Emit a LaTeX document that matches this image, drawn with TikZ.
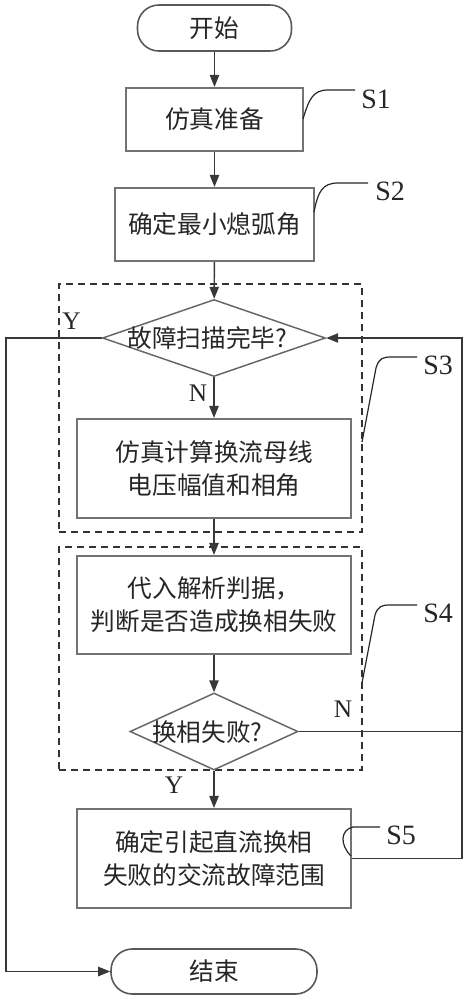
\documentclass[tikz,border=0pt]{standalone}
\usepackage{fontspec}
\setmainfont{Liberation Serif}
\newfontfamily\cjk{Noto Sans CJK SC}
\usetikzlibrary{shapes.geometric,arrows.meta}
\begin{document}
\begin{tikzpicture}[x=0.75pt,y=-0.75pt,
  line/.style={draw=black!78, line width=1.1pt},
  arr/.style={line, -{Triangle[length=9pt,width=7pt]}},
  callout/.style={draw=black!85, line width=0.9pt},
  cjktext/.style={font=\cjk\fontsize{18.5}{24.75}\selectfont, text=black!85},
  proc/.style={cjktext, draw=black!55, line width=1.6pt, fill=white, inner sep=0pt, align=center},
  term/.style={cjktext, draw=black!65, line width=1.2pt, rounded corners=16pt, inner sep=0pt},
  dia/.style={diamond, draw=black!60, line width=1.1pt, inner sep=0pt},
  dbox/.style={draw=black!80, line width=1pt, dash pattern=on 5.5pt off 3.5pt, inner sep=0pt},
  lab/.style={font=\fontsize{19}{22}\selectfont, text=black!85, inner sep=0pt},
  slab/.style={font=\fontsize{21}{24}\selectfont, text=black!85, inner sep=0pt, anchor=west}
]
\useasboundingbox (0,0) rectangle (467,1000);

% dashed groups
\node[dbox, minimum width=227.25pt, minimum height=186pt] (g1) at (210.5,408) {};
\node[dbox, minimum width=227.25pt, minimum height=167.25pt] (g2) at (210.5,658.5) {};

% nodes
\node[term, minimum width=115.5pt, minimum height=34.5pt] (start) at (214.5,28) {开始};
\node[proc, minimum width=132.75pt, minimum height=47.25pt] (s1) at (214.5,119.5) {仿真准备};
\node[proc, minimum width=149.25pt, minimum height=54.75pt] (s2) at (214.5,224.5) {确定最小熄弧角};
\node[dia, minimum width=167.25pt, minimum height=57.75pt] (d1) at (214,338) {};
\node[cjktext, inner sep=0pt] (d1t) at (207.5,338) {故障扫描完毕?};
\node[proc, minimum width=205.5pt, minimum height=74.25pt] (s3) at (214,468.5) {仿真计算换流母线\\电压幅值和相角};
\node[proc, minimum width=205.5pt, minimum height=73.5pt] (s4) at (214,605) {代入解析判据，\\判断是否造成换相失败};
\node[dia, minimum width=126pt, minimum height=57.75pt] (d2) at (214,731.5) {};
\node[cjktext, inner sep=0pt] (d2t) at (207.5,732) {换相失败?};
\node[proc, minimum width=205.5pt, minimum height=74.25pt] (s5) at (214,858.5) {确定引起直流换相\\失败的交流故障范围};
\node[term, minimum width=154.5pt, minimum height=33.75pt] (end) at (214,971.5) {结束};

% helper coordinates
\coordinate (fb) at (462,338);
\coordinate (lb) at (6,338);

% main flow
\draw[arr] (start) -- (s1);
\draw[arr] (s1) -- (s2);
\draw[arr] (s2) -- (d1);
\draw[arr] (d1) -- (s3);
\draw[arr] (s3) -- (s4);
\draw[arr] (s4) -- (d2);
\draw[arr] (d2) -- (s5);
\draw[arr] (s5.east) -| (fb) -- (d1.east);
\draw[line] (d2.east) -- (d2.east -| fb);
\draw[arr] (d1.west) -- (lb) |- (end.west);

% Y / N labels
\node[lab] (y1) at (71.5,321.5) {Y};
\node[lab] (n1) at (198,393.5) {N};
\node[lab] (n2) at (343,709.5) {N};
\node[lab] (y2) at (174,785) {Y};

% callouts
\coordinate (c1a) at (303,119);
\coordinate (c1b) at (328,90);
\coordinate (c1c) at (355,90);
\draw[callout] (c1a) .. controls (309,99) and (313,90) .. (c1b) -- (c1c);
\node[slab] (l1) at (361,99) {S1};

\coordinate (c2a) at (314,212);
\coordinate (c2b) at (338,183);
\coordinate (c2c) at (368,183);
\draw[callout] (c2a) .. controls (318,192) and (322,183) .. (c2b) -- (c2c);
\node[slab] (l2) at (375,191.5) {S2};

\coordinate (c3a) at (362,442);
\coordinate (c3b) at (376,368);
\coordinate (c3c) at (392,357);
\coordinate (c3d) at (417,357);
\draw[callout] (c3a) -- (c3b) .. controls (379,358) and (383,357) .. (c3c) -- (c3d);
\node[slab] (l3) at (423,365.5) {S3};

\coordinate (c4a) at (362,683);
\coordinate (c4b) at (375,615);
\coordinate (c4c) at (390,605);
\coordinate (c4d) at (417,605);
\draw[callout] (c4a) -- (c4b) .. controls (378,606) and (382,605) .. (c4c) -- (c4d);
\node[slab] (l4) at (423,613.5) {S4};

\coordinate (c5a) at (351,856);
\coordinate (c5b) at (353,827);
\coordinate (c5c) at (380,827);
\draw[callout] (c5a) .. controls (340,845) and (340,830) .. (c5b) -- (c5c);
\node[slab] (l5) at (386,835.5) {S5};
\end{tikzpicture}
\end{document}
